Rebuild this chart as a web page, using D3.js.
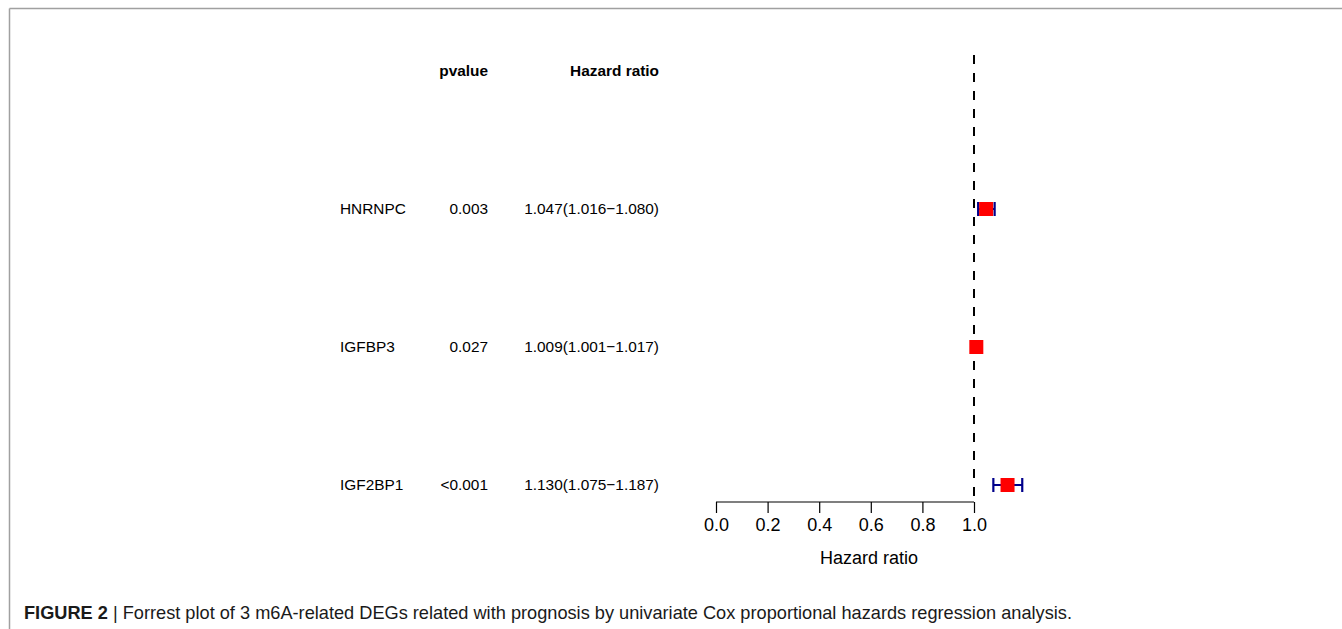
<!DOCTYPE html>
<html><head><meta charset="utf-8">
<script src="https://cdn.jsdelivr.net/npm/d3@7"></script>
<style>body{margin:0;background:#fff}svg{display:block}</style>
</head><body>
<svg id="c" width="1342" height="629"></svg>
<script>
const genes = ["HNRNPC", "IGFBP3", "IGF2BP1"];
const pvalues = ["0.003", "0.027", "<0.001"];
const hr = [1.047, 1.009, 1.130];
const hrLow = [1.016, 1.001, 1.075];
const hrHigh = [1.080, 1.017, 1.187];
const hrLabels = ["1.047(1.016\u22121.080)", "1.009(1.001\u22121.017)", "1.130(1.075\u22121.187)"];
const ticks = [0.0, 0.2, 0.4, 0.6, 0.8, 1.0];

const svg = d3.select("#c");
const font = "Liberation Sans, Arial, sans-serif";

// frame
svg.append("line").attr("x1",9.5).attr("x2",1342).attr("y1",8.5).attr("y2",8.5).attr("stroke","#a0a0a0").attr("stroke-width",1.5);
svg.append("line").attr("x1",9.5).attr("x2",9.5).attr("y1",8.5).attr("y2",629).attr("stroke","#a0a0a0").attr("stroke-width",1.5);

const x = d3.scaleLinear().domain([0,1]).range([716,974]);
const y = d3.scaleBand().domain(["header", ...genes]).range([2,554]).paddingInner(0).paddingOuter(0);
const yc = d => y(d) + y.bandwidth()/2;

// header
const g = svg.append("g").attr("font-family", font).attr("font-size", 15.4).attr("fill","#000");
g.append("text").attr("x",488).attr("y",yc("header")).attr("dy","0.35em").attr("text-anchor","end").attr("font-weight","bold").text("pvalue");
g.append("text").attr("x",659).attr("y",yc("header")).attr("dy","0.35em").attr("text-anchor","end").attr("font-weight","bold").text("Hazard ratio");

genes.forEach((gn,i)=>{
  g.append("text").attr("x",340).attr("y",yc(gn)).attr("dy","0.35em").text(gn);
  g.append("text").attr("x",488).attr("y",yc(gn)).attr("dy","0.35em").attr("text-anchor","end").text(pvalues[i]);
  g.append("text").attr("x",659).attr("y",yc(gn)).attr("dy","0.35em").attr("text-anchor","end").text(hrLabels[i]);
});

// reference line
svg.append("line").attr("x1",x(1)).attr("x2",x(1)).attr("y1",55).attr("y2",502)
  .attr("stroke","#000").attr("stroke-width",2).attr("stroke-dasharray","9,9");

// CI
const ci = svg.append("g");
genes.forEach((gn,i)=>{
  const yy = yc(gn);
  ci.append("line").attr("x1",x(hrLow[i])).attr("x2",x(hrHigh[i])).attr("y1",yy).attr("y2",yy).attr("stroke","#00008B").attr("stroke-width",2);
  [hrLow[i],hrHigh[i]].forEach(v=>{
    ci.append("line").attr("x1",x(v)).attr("x2",x(v)).attr("y1",yy-7).attr("y2",yy+7).attr("stroke","#00008B").attr("stroke-width",2.2);
  });
  ci.append("rect").attr("x",x(hr[i])-7).attr("y",yy-7).attr("width",14).attr("height",14).attr("fill","#ff0000");
});

// axis
const ax = svg.append("g").attr("transform","translate(0,502)")
  .call(d3.axisBottom(x).tickValues(ticks).tickFormat(d3.format(".1f")).tickSize(11).tickPadding(5));
ax.select(".domain").attr("stroke","#000").attr("stroke-width",1.2).attr("d","M716,0H974");
ax.selectAll(".tick line").attr("stroke","#000").attr("stroke-width",1.2);
ax.selectAll(".tick text").attr("font-family",font).attr("font-size",18).attr("fill","#000");

svg.append("text").attr("x",(x(0)+x(1))/2+24).attr("y",558).attr("dy","0.35em").attr("text-anchor","middle")
  .attr("font-family",font).attr("font-size",18).text("Hazard ratio");

// caption
const cap = svg.append("text").attr("x",24).attr("y",619).attr("font-family",font).attr("font-size",18.2).attr("fill","#1a1a1a");
cap.append("tspan").attr("font-weight","bold").text("FIGURE 2");
cap.append("tspan").text(" | Forrest plot of 3 m6A-related DEGs related with prognosis by univariate Cox proportional hazards regression analysis.");
</script>
</body></html>
